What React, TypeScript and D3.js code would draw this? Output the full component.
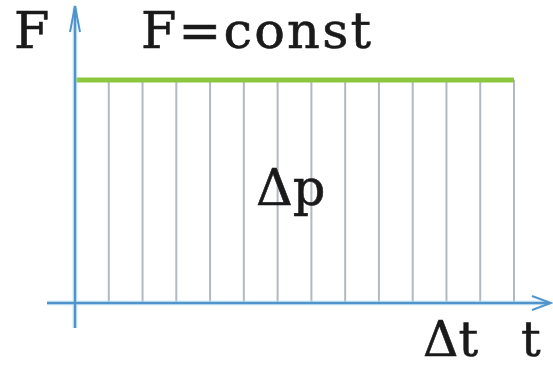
import React from "react";
import * as d3 from "d3";

// Impulse of a constant force: F(t) = const over Δt, split into equal time slices
const slices = [1, 2, 3, 4, 5, 6, 7, 8, 9, 10, 11, 12, 13];
const forceValues = [1, 1, 1, 1, 1, 1, 1, 1, 1, 1, 1, 1, 1];
const axisLabels = { y: "F", x: "t", title: "F=const", area: "Δp", span: "Δt" };

const W = 553;
const H = 368;
const AXIS = "#4f95cc";
const GRID = "#b2b9c0";
const FORCE = "#8cc63f";
const FONT = "'DejaVu Serif', serif";

export default function App() {
  const x = d3.scaleLinear().domain([0, slices.length]).range([75, 514]);
  const y = d3.scaleLinear().domain([0, 1]).range([303, 80]);

  const forceLine = d3
    .line<number>()
    .x((_, i) => x(i))
    .y((d) => y(d));
  const pts = [forceValues[0], ...forceValues];

  return (
    <svg
      width={W}
      height={H}
      style={{ position: "absolute", left: 0, top: 0, background: "#fff" }}
    >
      {/* vertical slices */}
      {slices.map((s, i) => (
        <line
          key={s}
          x1={x(s)}
          x2={x(s)}
          y1={y(forceValues[i])}
          y2={y(0)}
          stroke={GRID}
          strokeWidth={2}
        />
      ))}

      {/* force level */}
      <path d={forceLine(pts) ?? ""} fill="none" stroke={FORCE} strokeWidth={5} />

      {/* axes with soft halo */}
      <g stroke="#bfe3f5" strokeWidth={5} fill="none" opacity={0.6}>
        <line x1={47} x2={548} y1={y(0)} y2={y(0)} />
        <line x1={x(0)} x2={x(0)} y1={8} y2={328} />
      </g>
      <g stroke={AXIS} strokeWidth={2.5} fill="none">
        <line x1={47} x2={550} y1={y(0)} y2={y(0)} />
        <line x1={x(0)} x2={x(0)} y1={6} y2={328} />
        <polyline points={`${x(0) - 5},32 ${x(0)},6 ${x(0) + 5},32`} strokeWidth={2} />
        <polyline
          points={`532,${y(0) - 7} 551,${y(0)} 532,${y(0) + 7}`}
          strokeWidth={2}
        />
      </g>

      <g fontFamily={FONT} fill="#1a1a1a" stroke="#1a1a1a" strokeWidth={0.6}>
        <text x={14} y={48} fontSize={51}>
          {axisLabels.y}
        </text>
        <text x={141} y={48} fontSize={51} textLength={230} lengthAdjust="spacing">
          {axisLabels.title}
        </text>
        <text x={256} y={205} fontSize={51}>
          {axisLabels.area}
        </text>
        <text x={423} y={356} fontSize={49}>
          {axisLabels.span}
        </text>
        <text x={521} y={356} fontSize={49}>
          {axisLabels.x}
        </text>
      </g>
    </svg>
  );
}
